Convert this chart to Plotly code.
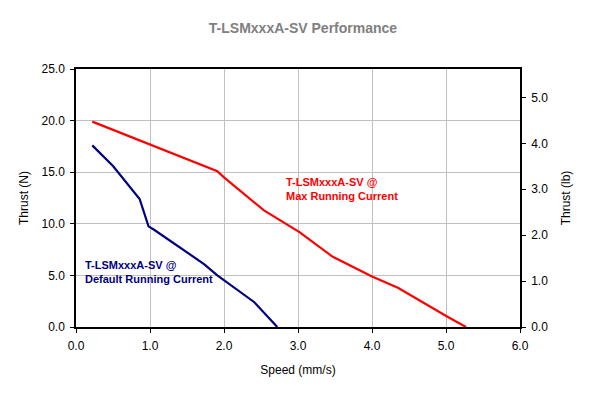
import plotly.graph_objects as go

N_PER_LB = 4.448

# Max running current series
max_speed = [0.22, 1.0, 1.91, 2.0, 2.36, 2.54, 3.02, 3.47, 4.0, 4.35, 5.02, 5.27]
max_thrust = [19.9, 17.7, 15.1, 14.5, 12.4, 11.3, 9.2, 6.8, 4.9, 3.8, 1.0, 0.0]

# Default running current series
def_speed = [0.22, 0.5, 0.86, 0.98, 1.06, 1.73, 1.91, 2.41, 2.72]
def_thrust = [17.6, 15.6, 12.4, 9.75, 9.4, 6.1, 5.0, 2.4, 0.0]

title = "T-LSMxxxA-SV Performance"
x_title = "Speed (mm/s)"
y_title = "Thrust (N)"
y2_title = "Thrust (lb)"
max_label = "T-LSMxxxA-SV @<br>Max Running Current"
def_label = "T-LSMxxxA-SV @<br>Default Running Current"

FONT = "Liberation Sans, Arial, sans-serif"

fig = go.Figure()
fig.add_trace(go.Scatter(x=max_speed, y=max_thrust, mode="lines",
                         line=dict(color="#FF0000", width=2.2), showlegend=False))
fig.add_trace(go.Scatter(x=def_speed, y=def_thrust, mode="lines",
                         line=dict(color="#000080", width=2.2), showlegend=False))
# invisible trace to activate the secondary (lb) axis
fig.add_trace(go.Scatter(x=max_speed, y=[v / N_PER_LB for v in max_thrust], mode="lines",
                         line=dict(color="rgba(0,0,0,0)", width=0), yaxis="y2",
                         showlegend=False, hoverinfo="skip"))

axis_common = dict(showline=True, linecolor="black", linewidth=1.5,
                   ticks="outside", ticklen=4, tickcolor="black",
                   ticklabelstandoff=3,
                   tickfont=dict(family=FONT, size=12, color="black"),
                   zeroline=False)

fig.update_layout(
    width=590, height=398,
    margin=dict(l=68, r=78, t=61, b=79),
    paper_bgcolor="white", plot_bgcolor="white",
    font=dict(family=FONT, size=12, color="black"),
    title=dict(text="<b>" + title + "</b>", x=0.5, xanchor="center", y=0.95, yanchor="middle",
               font=dict(family=FONT, size=14, color="#808080")),
    xaxis=dict(range=[0, 6], dtick=1, tickformat=".1f", showgrid=True,
               gridcolor="#C0C0C0", gridwidth=1, mirror=True,
               title=dict(text=x_title, font=dict(family=FONT, size=12), standoff=13),
               **axis_common),
    yaxis=dict(range=[0, 25], dtick=5, tickformat=".1f", showgrid=True,
               gridcolor="#C0C0C0", gridwidth=1,
               title=dict(text=y_title, font=dict(family=FONT, size=12), standoff=10),
               **axis_common),
    yaxis2=dict(range=[0, 25 / N_PER_LB], dtick=1, tickformat=".1f", overlaying="y",
                side="right", showgrid=False,
                title=dict(text=y2_title, font=dict(family=FONT, size=12), standoff=14),
                **axis_common),
    annotations=[
        dict(x=2.81, y=13.4, xref="x", yref="y", text="<b>" + max_label + "</b>",
             showarrow=False, xanchor="left", yanchor="middle", align="left",
             font=dict(family=FONT, size=11, color="#FF0000")),
        dict(x=0.1, y=5.3, xref="x", yref="y", text="<b>" + def_label + "</b>",
             showarrow=False, xanchor="left", yanchor="middle", align="left",
             font=dict(family=FONT, size=11, color="#000080")),
    ],
)

fig.write_html("out.html")
